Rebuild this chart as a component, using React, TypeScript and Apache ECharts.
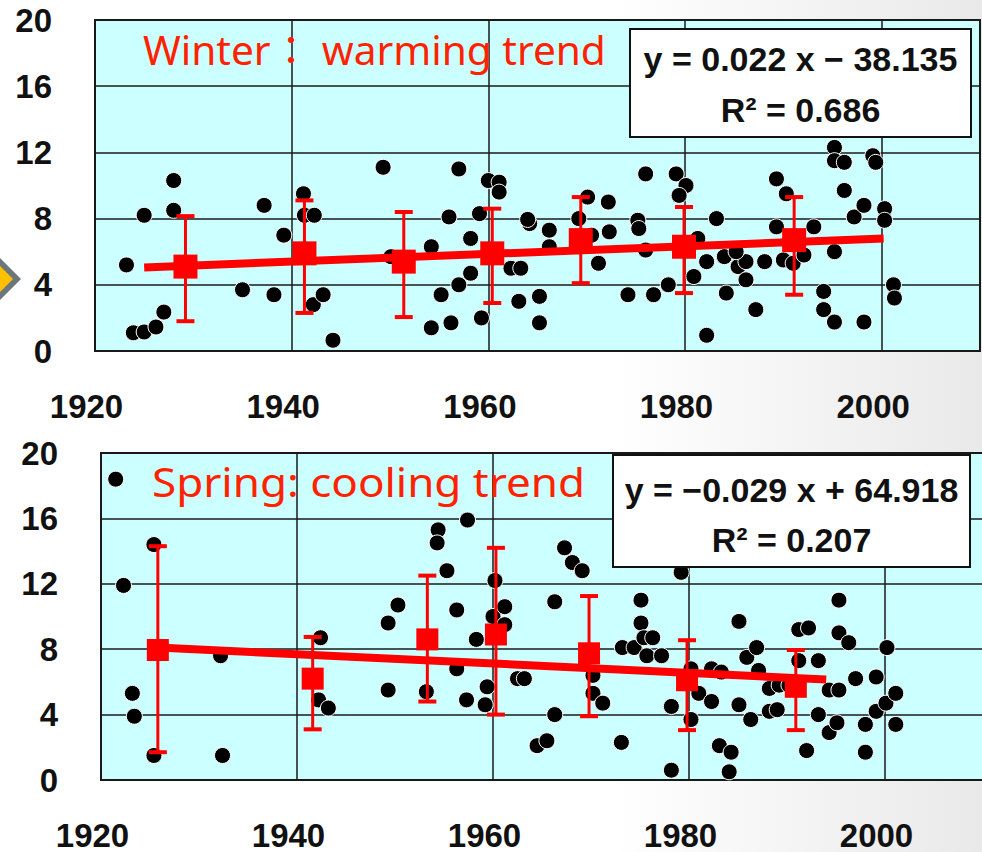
import React, { useEffect, useRef } from "react";
import * as echarts from "echarts";

// ---- Data ----
const xTickYears = [1920, 1940, 1960, 1980, 2000];
const yTickValues = [0, 4, 8, 12, 16, 20];

const winterPoints: [number, number][] = [
  [1923.2, 5.2], [1923.9, 1.1], [1925.0, 1.15], [1926.2, 1.45], [1927.0, 2.35], [1925.0, 8.2], [1928.0, 8.5], [1928.0, 10.3],
  [1937.2, 8.8], [1935.0, 3.7], [1938.2, 3.4], [1939.2, 7.0], [1941.2, 9.5], [1941.3, 8.2], [1942.3, 8.2], [1942.2, 2.8],
  [1943.2, 3.4], [1944.2, 0.65], [1949.3, 11.1], [1950.1, 5.7], [1954.2, 6.3], [1955.2, 3.4], [1954.2, 1.4], [1956.2, 1.7],
  [1956.0, 8.1], [1957.0, 4.0], [1957.0, 11.0], [1958.2, 6.8], [1958.2, 4.7], [1959.1, 8.3], [1959.3, 2.0], [1960.0, 10.3],
  [1961.1, 10.2], [1961.1, 9.6], [1960.3, 6.0], [1962.3, 5.0], [1963.3, 5.0], [1963.1, 3.0], [1965.2, 3.3], [1965.2, 1.7],
  [1964.2, 7.7], [1964.0, 7.95], [1966.2, 7.3], [1966.2, 6.3], [1969.2, 8.0], [1970.1, 9.3], [1970.5, 7.0], [1972.2, 9.0],
  [1972.3, 7.2], [1971.2, 5.3], [1974.2, 3.4], [1975.2, 7.9], [1975.3, 7.4], [1976.0, 10.7], [1976.0, 6.1], [1976.8, 3.4],
  [1979.1, 10.7], [1980.1, 10.0], [1979.4, 9.4], [1978.3, 4.0], [1983.2, 8.0], [1981.3, 6.8], [1982.2, 5.4], [1980.9, 4.5],
  [1982.2, 0.95], [1984.2, 3.5], [1984.0, 5.7], [1985.4, 5.1], [1986.2, 5.4], [1986.2, 4.3], [1985.2, 6.0], [1987.2, 2.5],
  [1988.1, 5.4], [1989.3, 7.5], [1989.3, 10.4], [1990.3, 9.5], [1990.0, 5.5], [1991.0, 5.3], [1991.5, 6.7], [1992.1, 5.8],
  [1993.1, 7.5], [1994.1, 3.6], [1994.1, 2.5], [1995.2, 1.75], [1995.2, 6.0], [1995.2, 12.3], [1995.2, 11.5], [1996.2, 11.4],
  [1996.2, 9.7], [1997.2, 8.1], [1998.2, 8.8], [1998.2, 1.75], [1999.1, 11.8], [1999.4, 11.4], [2000.3, 8.6], [2000.3, 7.9],
  [2001.2, 4.0], [2001.3, 3.2],
];

const springPoints: [number, number][] = [
  [1921.5, 18.4], [1922.3, 11.9], [1923.2, 5.3], [1923.4, 3.9], [1925.4, 14.4], [1925.4, 1.5], [1932.2, 7.6], [1932.4, 1.5],
  [1942.4, 8.7], [1942.2, 4.9], [1943.2, 4.4], [1949.3, 5.5], [1949.3, 9.6], [1950.3, 10.7], [1953.2, 5.4], [1954.4, 15.3],
  [1954.3, 14.5], [1955.3, 12.8], [1956.3, 10.4], [1956.3, 6.8], [1957.3, 4.9], [1957.4, 15.9], [1958.3, 8.6], [1959.4, 5.7],
  [1959.2, 4.6], [1960.2, 12.2], [1960.0, 10.0], [1961.2, 10.6], [1961.2, 9.5], [1962.5, 6.2], [1963.2, 6.2], [1964.5, 2.1],
  [1965.5, 2.4], [1966.3, 4.0], [1966.3, 10.9], [1967.3, 14.2], [1968.1, 13.3], [1969.1, 12.8], [1970.2, 6.4], [1970.2, 5.3],
  [1971.2, 4.7], [1973.1, 2.3], [1973.2, 8.1], [1975.1, 11.0], [1975.1, 9.6], [1974.4, 8.1], [1975.4, 8.7], [1975.7, 7.6],
  [1976.3, 8.7], [1977.2, 7.6], [1979.2, 12.7], [1978.2, 4.5], [1978.2, 0.6], [1980.2, 6.8], [1980.2, 3.7], [1981.0, 5.3],
  [1982.3, 4.8], [1982.3, 6.8], [1983.3, 6.6], [1983.1, 2.1], [1984.3, 1.7], [1984.1, 0.5], [1985.1, 9.7], [1985.1, 4.6],
  [1985.9, 7.5], [1986.9, 8.1], [1986.3, 3.7], [1987.1, 6.7], [1988.2, 5.6], [1988.2, 4.2], [1989.2, 5.8], [1990.2, 5.8],
  [1989.0, 4.3], [1991.2, 9.2], [1992.2, 9.3], [1991.2, 7.3], [1993.2, 7.3], [1992.0, 1.8], [1993.2, 4.0], [1994.3, 5.5],
  [1995.3, 5.5], [1994.3, 2.9], [1995.1, 3.5], [1995.3, 11.0], [1995.3, 9.0], [1996.3, 8.4], [1997.0, 6.2], [1998.0, 3.4],
  [1998.0, 1.7], [1999.1, 6.3], [1999.1, 4.2], [2000.2, 8.1], [2000.1, 4.7], [2001.1, 5.3], [2001.1, 3.4],
];

const winterMeanYears = [1929.2, 1941.3, 1951.4, 1960.4, 1969.4, 1979.9, 1991.1];
const winterMeans = [5.1, 5.9, 5.4, 5.9, 6.7, 6.3, 6.7];
const winterLow = [1.8, 2.3, 2.05, 2.9, 4.1, 3.5, 3.4];
const winterHigh = [8.15, 9.1, 8.4, 8.6, 9.3, 8.7, 9.3];
const winterTrend: [number, number][] = [[1925.0, 5.05], [2000.2, 6.8]];

const springMeanYears = [1925.8, 1941.6, 1953.3, 1960.3, 1969.8, 1979.8, 1990.9];
const springMeans = [7.95, 6.2, 8.6, 8.9, 7.75, 6.1, 5.7];
const springLow = [1.7, 3.1, 4.8, 4.0, 3.9, 3.05, 3.05];
const springHigh = [14.3, 8.75, 12.5, 14.2, 11.25, 8.55, 7.95];
const springTrend: [number, number][] = [[1925.8, 8.1], [1994.0, 6.15]];

const winterTitle = "Winter： warming trend";
const springTitle = "Spring: cooling trend";
const winterEq = ["y = 0.022 x − 38.135", "R² = 0.686"];
const springEq = ["y = −0.029 x + 64.918", "R² = 0.207"];

// ---- Styling ----
const RED = "#ff0000";
const TXT_RED = "#ff2200";
const axisFont = {
  fontFamily: "'Liberation Sans', Arial, sans-serif",
  fontWeight: "bold" as const,
  fontSize: 33,
  lineHeight: 28,
  color: "#111",
};
const gridLine = { show: true, lineStyle: { color: "#1a1a1a", width: 1.5 } };

function makeXAxis(gridIndex: number) {
  return {
    type: "value",
    gridIndex,
    min: 1920,
    max: 2010,
    interval: 20,
    axisLine: { show: false },
    axisTick: { show: false },
    splitLine: gridLine,
    axisLabel: {
      ...axisFont,
      margin: 41,
      padding: [0, 17, 0, 0],
      formatter: (v: number) => (xTickYears.includes(v) ? String(v) : ""),
    },
  };
}

function makeYAxis(gridIndex: number) {
  return {
    type: "value",
    gridIndex,
    min: 0,
    max: 20,
    interval: 4,
    axisLine: { show: false },
    axisTick: { show: false },
    splitLine: gridLine,
    axisLabel: {
      ...axisFont,
      margin: 43,
      formatter: (v: number) => (yTickValues.includes(v) ? String(v) : ""),
    },
  };
}

function errorBarSeries(idx: number, years: number[], low: number[], high: number[]) {
  return {
    type: "custom",
    xAxisIndex: idx,
    yAxisIndex: idx,
    z: 4,
    data: years.map((y, i) => [y, low[i], high[i]]),
    renderItem: (_params: any, api: any) => {
      const x = api.value(0);
      const pLo = api.coord([x, api.value(1)]);
      const pHi = api.coord([x, api.value(2)]);
      const cap = 9;
      const st = { stroke: RED, lineWidth: 3 };
      return {
        type: "group",
        children: [
          { type: "line", shape: { x1: pLo[0], y1: pLo[1], x2: pHi[0], y2: pHi[1] }, style: st },
          { type: "line", shape: { x1: pLo[0] - cap, y1: pLo[1], x2: pLo[0] + cap, y2: pLo[1] }, style: { ...st, lineWidth: 4 } },
          { type: "line", shape: { x1: pHi[0] - cap, y1: pHi[1], x2: pHi[0] + cap, y2: pHi[1] }, style: { ...st, lineWidth: 4 } },
        ],
      };
    },
  };
}

function panelSeries(idx: number, pts: [number, number][], years: number[], means: number[], low: number[], high: number[], trend: [number, number][], sq: number) {
  return [
    {
      type: "scatter",
      xAxisIndex: idx,
      yAxisIndex: idx,
      symbol: "circle",
      symbolSize: 16,
      z: 3,
      itemStyle: { color: "#000", borderColor: "#fff", borderWidth: 1, opacity: 1 },
      data: pts,
    },
    errorBarSeries(idx, years, low, high),
    {
      type: "line",
      xAxisIndex: idx,
      yAxisIndex: idx,
      symbol: "none",
      z: 5,
      lineStyle: { color: RED, width: 8, opacity: 1 },
      data: trend,
    },
    {
      type: "scatter",
      xAxisIndex: idx,
      yAxisIndex: idx,
      symbol: "rect",
      symbolSize: sq,
      z: 6,
      itemStyle: { color: RED, opacity: 1 },
      data: years.map((y, i) => [y, means[i]]),
    },
  ];
}

function eqBox(x: number, y: number, w: number, h: number, lines: string[], l1y: number, l2y: number) {
  const cx = x + w / 2;
  const font = "bold 34px 'Liberation Sans', Arial, sans-serif";
  return [
    { type: "rect", z: 100, shape: { x, y, width: w, height: h }, style: { fill: "#fff", stroke: "#111", lineWidth: 2 } },
    { type: "text", z: 101, x: cx, y: l1y, style: { text: lines[0], font, fill: "#111", align: "center", verticalAlign: "middle" } },
    { type: "text", z: 101, x: cx, y: l2y, style: { text: lines[1], font, fill: "#111", align: "center", verticalAlign: "middle" } },
  ];
}

export default function App() {
  const ref = useRef<HTMLDivElement>(null);
  useEffect(() => {
    if (!ref.current) return;
    const chart = echarts.init(ref.current, null, { renderer: "svg" });
    const titleFont = "40px 'Noto Sans', 'Noto Sans CJK JP', sans-serif";
    chart.setOption({
      animation: false,
      grid: [
        { left: 95, top: 20, width: 885, height: 331, outerBoundsMode: "none", containLabel: false, show: true, backgroundColor: "#ccffff", borderColor: "#1a1a1a", borderWidth: 2 },
        { left: 101, top: 453, width: 882, height: 327, outerBoundsMode: "none", containLabel: false, show: true, backgroundColor: "#ccffff", borderColor: "#1a1a1a", borderWidth: 2 },
      ],
      xAxis: [makeXAxis(0), makeXAxis(1)],
      yAxis: [makeYAxis(0), makeYAxis(1)],
      series: [
        ...panelSeries(0, winterPoints, winterMeanYears, winterMeans, winterLow, winterHigh, winterTrend, 24),
        ...panelSeries(1, springPoints, springMeanYears, springMeans, springLow, springHigh, springTrend, 22),
      ],
      graphic: [
        { type: "polygon", z: 100, shape: { points: [[21, 279], [-10, 248], [-10, 310]] }, style: { fill: "#6d767b" } },
        { type: "polygon", z: 101, shape: { points: [[13, 279], [-10, 256], [-10, 302]] }, style: { fill: "#ffc000" } },
        { type: "text", z: 100, x: 143, y: 50, scaleX: 1.015, style: { text: winterTitle, font: titleFont, fill: TXT_RED, align: "left", verticalAlign: "middle" } },
        { type: "text", z: 100, x: 152, y: 481, scaleX: 1.1, style: { text: springTitle, font: titleFont, fill: TXT_RED, align: "left", verticalAlign: "middle" } },
        ...eqBox(630, 29, 341, 108, winterEq, 59, 110),
        ...eqBox(613, 455, 357, 112, springEq, 490, 540),
      ],
    });
    return () => chart.dispose();
  }, []);
  return (
    <div
      ref={ref}
      style={{
        position: "fixed",
        left: 0,
        top: 0,
        width: 982,
        height: 852,
        background: "linear-gradient(90deg, #ffffff 0%, #ffffff 62%, #e9e9e9 100%)",
      }}
    />
  );
}
